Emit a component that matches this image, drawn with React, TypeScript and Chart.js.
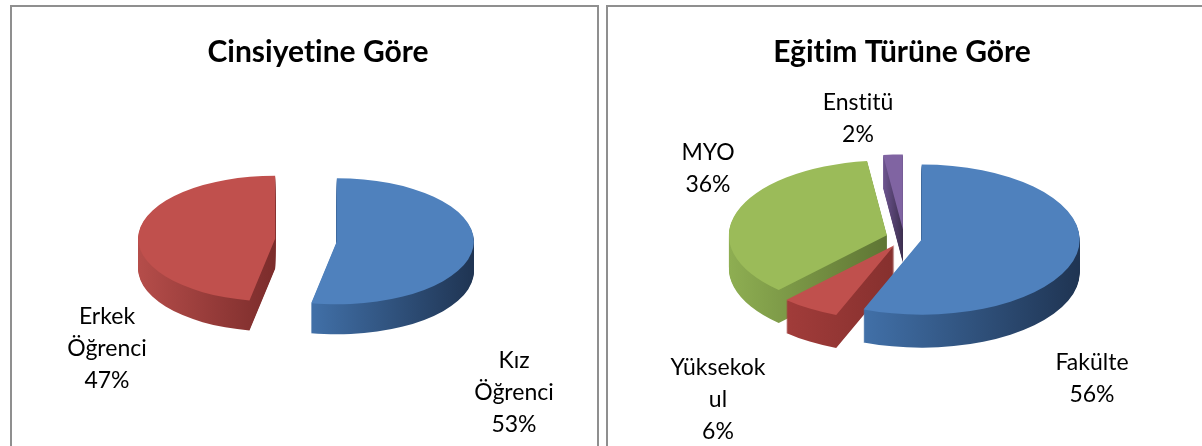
import React, { useEffect, useRef } from "react";
import { Chart, registerables } from "chart.js";

Chart.register(...registerables);

// ---- Data ----
const genderTitle = "Cinsiyetine Göre";
const genderCategories = ["Kız Öğrenci", "Erkek Öğrenci"];
const genderValues = [53, 47];
const genderLabelLines = [["Kız", "Öğrenci"], ["Erkek", "Öğrenci"]];

const eduTitle = "Eğitim Türüne Göre";
const eduCategories = ["Fakülte", "Yüksekokul", "MYO", "Enstitü"];
const eduValues = [56, 6, 36, 2];
const eduLabelLines = [["Fakülte"], ["Yüksekok", "ul"], ["MYO"], ["Enstitü"]];

// ---- Styles ----
const genderColors = ["#4F81BD", "#C0504D"];
const genderSides = [["#4170a8", "#1f3452"], ["#b54d4a", "#7b2c2b"]];
const eduColors = ["#4F81BD", "#C0504D", "#9BBB59", "#8064A2"];
const eduSides = [["#4170a8", "#1f3452"], ["#a13c3a", "#86302e"], ["#8eae52", "#5e7534"], ["#6e5590", "#3a2d4c"]];

const FONT = "Lato, 'Open Sans', sans-serif";

type Settings = {
  tilt: number;
  depth: number;
  explode: number;
  shiftX: number;
  shiftY: number;
  sides: string[][];
  lines: string[][];
  anchors: number[][];
  labelSize: number;
  lineHeight: number;
};

function makePie3d(s: Settings) {
  return {
    id: "pie3d",
    beforeDraw(chart: any) {
      const ctx: any = chart.ctx;
      ctx.textRendering = "optimizeSpeed";
    },
    beforeDatasetsDraw(chart: any) {
      const meta = chart.getDatasetMeta(0);
      const arcs = meta.data as any[];
      const ctx: CanvasRenderingContext2D = chart.ctx;
      if (!arcs.length) return;
      const place = (arc: any, dy: number) => {
        const mid = (arc.startAngle + arc.endAngle) / 2;
        const ex = Math.cos(mid) * s.explode;
        const ey = Math.sin(mid) * s.explode;
        ctx.translate(arc.x + s.shiftX + ex, arc.y + s.shiftY + dy + ey * s.tilt);
        ctx.scale(1, s.tilt);
        ctx.translate(-arc.x, -arc.y);
      };
      const grads = arcs.map((arc: any, i: number) => {
        const xs: number[] = [arc.x];
        const n = 60;
        for (let k = 0; k <= n; k++) {
          const a = arc.startAngle + ((arc.endAngle - arc.startAngle) * k) / n;
          xs.push(arc.x + arc.outerRadius * Math.cos(a));
        }
        const x0 = Math.min(...xs);
        const x1 = Math.max(...xs);
        const g = ctx.createLinearGradient(x0, 0, x1 + 1, 0);
        g.addColorStop(0, s.sides[i][0]);
        g.addColorStop(1, s.sides[i][1]);
        return g;
      });
      for (let d = s.depth; d >= 1; d--) {
        arcs.forEach((arc: any, i: number) => {
          ctx.save();
          place(arc, d);
          const saved = arc.options;
          arc.options = { ...saved, backgroundColor: grads[i], borderWidth: 0 };
          arc.draw(ctx);
          arc.options = saved;
          ctx.restore();
        });
      }
      arcs.forEach((arc: any) => {
        ctx.save();
        place(arc, 0);
        arc.draw(ctx);
        ctx.restore();
      });
      return false;
    },
    afterDraw(chart: any) {
      const meta = chart.getDatasetMeta(0);
      const arc = meta.data[0];
      if (!arc) return;
      const ctx: CanvasRenderingContext2D = chart.ctx;
      const cx = arc.x + s.shiftX;
      const cy = arc.y + s.shiftY;
      const values: number[] = chart.data.datasets[0].data;
      const total = values.reduce((a, b) => a + b, 0);
      ctx.save();
      ctx.font = `${s.labelSize}px ${FONT}`;
      ctx.fillStyle = "#000";
      ctx.textAlign = "center";
      ctx.textBaseline = "middle";
      s.lines.forEach((lines, i) => {
        const text = [...lines, `${Math.round((values[i] / total) * 100)}%`];
        const [dx, dy] = s.anchors[i];
        text.forEach((t, k) => {
          ctx.fillText(t, cx + dx, cy + dy + (k - (text.length - 1) / 2) * s.lineHeight);
        });
      });
      ctx.restore();
    },
  };
}

function makeConfig(
  title: string,
  labels: string[],
  values: number[],
  colors: string[],
  radius: number,
  padding: { left: number; right: number; bottom: number },
  s: Settings
): any {
  return {
    type: "pie",
    data: {
      labels,
      datasets: [
        {
          data: values,
          backgroundColor: colors,
          borderWidth: 0,
          radius,
          clip: false,
        },
      ],
    },
    options: {
      animation: false,
      responsive: false,
      events: [],
      layout: { padding: { left: padding.left, right: padding.right, top: 0, bottom: padding.bottom } },
      plugins: {
        legend: { display: false },
        tooltip: { enabled: false },
        title: {
          display: true,
          text: title,
          color: "#000",
          font: { family: FONT, size: 30, weight: "bold", lineHeight: 1.2 },
          padding: { top: 27, bottom: 10 },
        },
      },
    },
    plugins: [makePie3d(s)],
  };
}

function PieCanvas({ config, width, height }: { config: () => any; width: number; height: number }) {
  const ref = useRef<HTMLCanvasElement>(null);
  useEffect(() => {
    const chart = new Chart(ref.current as HTMLCanvasElement, config());
    return () => chart.destroy();
  }, []);
  return <canvas ref={ref} width={width} height={height} style={{ display: "block" }} />;
}

const genderConfig = () =>
  makeConfig(genderTitle, genderCategories, genderValues, genderColors, 137, { left: 27, right: 0, bottom: 46 }, {
    tilt: 0.46,
    depth: 30,
    explode: 31,
    shiftX: -12,
    shiftY: 0,
    sides: genderSides,
    lines: genderLabelLines,
    anchors: [[208, 153], [-199, 109]],
    labelSize: 23,
    lineHeight: 32,
  });

const eduConfig = () =>
  makeConfig(eduTitle, eduCategories, eduValues, eduColors, 158, { left: 0, right: 28, bottom: 50 }, {
    tilt: 0.475,
    depth: 33,
    explode: 18,
    shiftX: 2,
    shiftY: 0,
    sides: eduSides,
    lines: eduLabelLines,
    anchors: [[188, 141], [-186, 162], [-196, -69], [-46, -119]],
    labelSize: 23,
    lineHeight: 32,
  });

export default function App() {
  const border = "2px solid #8f8f8f";
  return (
    <div
      style={{
        position: "absolute",
        left: 0,
        top: 0,
        width: 1202,
        height: 446,
        overflow: "hidden",
        background: "#fff",
      }}
    >
      <div style={{ position: "absolute", left: 10, top: 5, width: 585, height: 460, border }}>
        <PieCanvas config={genderConfig} width={585} height={439} />
      </div>
      <div style={{ position: "absolute", left: 606, top: 5, width: 616, height: 460, border }}>
        <PieCanvas config={eduConfig} width={616} height={439} />
      </div>
    </div>
  );
}
